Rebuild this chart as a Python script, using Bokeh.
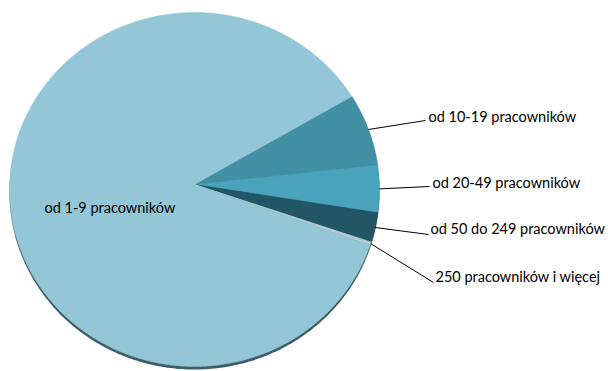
import numpy as np
from bokeh.plotting import figure
from bokeh.models import Range1d, ColumnDataSource
from bokeh.core.properties import value
from bokeh.embed import file_html
from bokeh.resources import INLINE

# ---- data ----
categories = ["od 1-9 pracowników", "od 10-19 pracowników", "od 20-49 pracowników",
              "od 50 do 249 pracowników", "250 pracowników i więcej"]
shares = [86.1, 6.6, 4.3, 2.7, 0.3]
colors = ["#93c6d6", "#4190a4", "#4aa3bc", "#225666", "#b2ccd6"]

# ---- layout / style ----
W, H = 608, 371
cx, cy = 194, 189          # ellipse centre (screen px)
ax_, ay_ = 194, 184        # apex
rx, ry = 185, 177
start_deg = 31.7           # start of "od 10-19" slice, going clockwise
FONT = "Lato"
FS = "14.5px"

p = figure(width=W, height=H, output_backend="svg", toolbar_location=None,
           x_range=Range1d(0, W), y_range=Range1d(H, 0), min_border=0)
p.axis.visible = False
p.grid.visible = False
p.outline_line_color = None
p.background_fill_color = "white"
p.border_fill_color = "white"

# shadow
t = np.linspace(0, 2 * np.pi, 400)
p.patch(cx + rx * np.cos(t), cy + 3 + ry * np.sin(t), fill_color="#3d5c63",
        line_color=None)

# slices: order clockwise starting at start_deg: 10-19, 20-49, 50-249, 250+, 1-9
order = [1, 2, 3, 4, 0]
total = sum(shares)
ang = start_deg
mids = {}
for i in order:
    span = shares[i] / total * 360.0
    a0, a1 = ang, ang - span
    th = np.radians(np.linspace(a0, a1, max(int(abs(span) * 2), 4)))
    xs = np.concatenate([[ax_], cx + rx * np.cos(th), [ax_]])
    ys = np.concatenate([[ay_], cy - ry * np.sin(th), [ay_]])
    p.patch(xs, ys, fill_color=colors[i], line_color=colors[i], line_width=0.5)
    mids[i] = np.radians((a0 + a1) / 2)
    ang = a1

# leader lines + labels (layout constants for label anchors)
label_ends = {1: (425, 120), 2: (429, 186), 3: (428, 234), 4: (433, 282)}
label_text = {1: (428, 116), 2: (432, 182), 3: (430, 228), 4: (435, 276)}
for i in [1, 2, 3, 4]:
    m = mids[i]
    sx, sy = cx + rx * np.cos(m), cy - ry * np.sin(m)
    ex, ey = label_ends[i]
    p.line([sx, ex], [sy, ey], line_color="black", line_width=1)
    tx, ty = label_text[i]
    p.text([tx], [ty], text=[categories[i]], text_font=value(FONT),
           text_font_size=FS, text_baseline="middle", text_align="left",
           text_color="black")

p.text([44], [207], text=[categories[0]], text_font=value(FONT), text_font_size=FS,
       text_baseline="middle", text_align="left", text_color="black")

open("out.html", "w").write(file_html(p, INLINE))
